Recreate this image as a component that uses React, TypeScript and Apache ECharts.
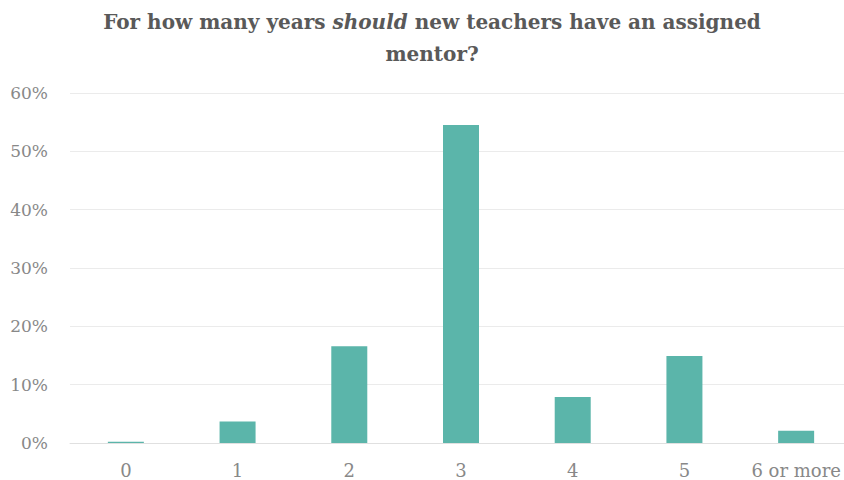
import React, { useEffect, useRef } from "react";
import * as echarts from "echarts";

const categories = ["0", "1", "2", "3", "4", "5", "6 or more"];
const values = [0.2, 3.7, 16.6, 54.5, 7.9, 14.9, 2.1];
const yTicks = [0, 10, 20, 30, 40, 50, 60];

export default function App() {
  const ref = useRef<HTMLDivElement>(null);
  useEffect(() => {
    if (!ref.current) return;
    const chart = echarts.init(ref.current, undefined, { renderer: "svg" });
    const serif = "DejaVu Serif";
    chart.setOption({
      animation: false,
      backgroundColor: "#ffffff",
      graphic: [
        {
          type: "text",
          x: 432,
          y: 22,
          style: {
            text: "{b|For how many years }{i|should}{b| new teachers have an assigned}",
            align: "center",
            verticalAlign: "middle",
            rich: {
              b: { fontFamily: serif, fontWeight: "bold", fontSize: 20, fill: "#595959" },
              i: { fontFamily: serif, fontWeight: "bold", fontStyle: "italic", fontSize: 20, fill: "#595959" },
            },
          },
        },
        {
          type: "text",
          x: 432,
          y: 54,
          style: {
            text: "mentor?",
            align: "center",
            verticalAlign: "middle",
            fontFamily: serif,
            fontWeight: "bold",
            fontSize: 20,
            fill: "#595959",
          },
        },
      ],
      grid: { left: 70, right: 0, top: 93, bottom: 37, containLabel: false },
      xAxis: {
        type: "category",
        data: categories,
        axisLine: { lineStyle: { color: "#e0e0e0", width: 1 } },
        axisTick: { show: false },
        axisLabel: { color: "#888888", fontFamily: serif, fontSize: 18, margin: 18, interval: 0 },
      },
      yAxis: {
        type: "value",
        min: yTicks[0],
        max: yTicks[yTicks.length - 1],
        interval: 10,
        axisLine: { show: false },
        axisTick: { show: false },
        splitLine: { lineStyle: { color: "#ebebeb", width: 1 } },
        axisLabel: {
          color: "#888888",
          fontFamily: serif,
          fontSize: 17,
          margin: 22,
          formatter: (v: number) => `${v}%`,
        },
      },
      series: [
        {
          type: "bar",
          data: values,
          barWidth: 36,
          itemStyle: { color: "#5bb5aa" },
        },
      ],
    });
    return () => chart.dispose();
  }, []);
  return <div ref={ref} style={{ position: "fixed", left: 0, top: 0, width: 852, height: 480 }} />;
}
